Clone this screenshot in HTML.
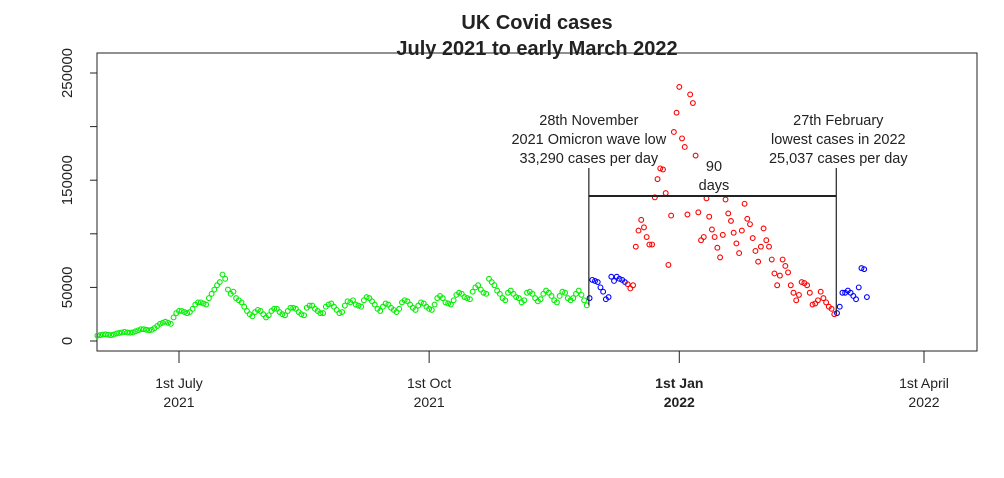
<!DOCTYPE html>
<html><head><meta charset="utf-8"><style>
body{margin:0;background:#fff;}
svg text{font-family:"Liberation Sans",Arial,sans-serif;fill:#222;}
</style></head><body>
<svg id="chart" width="1004" height="473" viewBox="0 0 1004 473" xmlns="http://www.w3.org/2000/svg">
<text x="537" y="29" text-anchor="middle" font-size="20" font-weight="bold">UK Covid cases</text>
<text x="537" y="55" text-anchor="middle" font-size="20" font-weight="bold">July 2021 to early March 2022</text>
<rect x="97" y="53" width="880" height="298" fill="none" stroke="#222" stroke-width="1"/>
<g id="yaxis"></g>
<g id="xaxis"></g>
<g id="points"></g>
<g id="annot"></g>
</svg>
<script>
// Data (thousands of cases per day)
const greenStart = "2021-06-01";
const greenValues = [5,5.5,6,6.2,5.8,5.5,6,7,7.5,8,8.5,8,7.8,8,9,10,11,11,10.5,10,10.5,12,14,16,17,18,17,16,22,26,
28,28,27,26,27,30,34,36,36,35,34,40,44,48,52,55,62,58,48,44,46,40,38,36,32,28,25,23,27,29,28,
25,22,24,28,30,30,27,25,24,28,31,31,30,27,25,24,31,33,33,30,28,26,26,32,34,35,32,29,26,27,33,
37,36,38,34,33,32,38,41,40,37,34,30,28,32,35,34,31,29,27,30,36,38,37,34,31,29,33,36,35,32,
30,29,34,40,42,40,36,35,34,38,43,45,44,41,40,39,46,50,52,48,45,44,58,55,52,47,44,40,38,45,47,
44,41,40,36,38,45,46,44,40,37,39,44,47,45,42,38,36,42,46,45,40,38,40,44,47,43,38,33.29];
const blue1Start = "2021-11-29";
const blue1Values = [40,57,56,55,50,46,39,41,60,56,60,58,57,55];
const redStart = "2021-12-13";
const redValues = [53,49,52,88,103,113,106,97,90,90,134,151,161,160,138,71,117,195,213,237,189,181,118,230,222,173,120,94,97,133,116,104,97,87,78,99,
132,119,112,101,91,82,103,128,114,109,96,84,74,88,105,94,88,76,63,52,61,76,70,64,52,45,38,43,55,54,52,45,34,35,38,46,40,36,32,30,25.037];
const blue2Start = "2022-02-28";
const blue2Values = [26,32,45,45,47,45,42,39,50,68,67,41];
const yTicks = [0,50000,100000,150000,200000,250000];
const yTickLabels = ["0","50000","","150000","","250000"];
const xTickDates = ["2021-07-01","2021-10-01","2022-01-01","2022-04-01"];
const xTickLine1 = ["1st July","1st Oct","1st Jan","1st April"];
const xTickLine2 = ["2021","2021","2022","2022"];
const xTickBold = [false,false,true,false];

const NS="http://www.w3.org/2000/svg";
const DAY=86400000;
const t0=Date.parse("2021-07-01");
function X(d){return 179+(Date.parse(d)-t0)/DAY*2.719;}
function Y(v){return 341-v/250000*268;}
function mk(tag,attrs,parent){const e=document.createElementNS(NS,tag);for(const k in attrs)e.setAttribute(k,attrs[k]);parent.appendChild(e);return e;}
const ya=document.getElementById('yaxis');
yTicks.forEach((v,i)=>{
  const l=mk('line',{x1:90,x2:97,y1:Y(v),y2:Y(v),stroke:'#222'},ya);
  
  
  if(yTickLabels[i]){
    const t=mk('text',{x:0,y:0,'font-size':15,'text-anchor':'middle',transform:`translate(72,${Y(v)}) rotate(-90)`},ya);
    t.textContent=yTickLabels[i];
    
    
  }
});
const xa=document.getElementById('xaxis');
xTickDates.forEach((d,i)=>{
  const x=X(d);
  const l=mk('line',{x1:x,x2:x,y1:351,y2:363,stroke:'#222'},xa);
  
  
  const a=mk('text',{x:x,y:388,'font-size':14,'text-anchor':'middle','font-weight':xTickBold[i]?'bold':'normal'},xa);
  a.textContent=xTickLine1[i];
  
  
  const b=mk('text',{x:x,y:407,'font-size':14,'text-anchor':'middle','font-weight':xTickBold[i]?'bold':'normal'},xa);
  b.textContent=xTickLine2[i];
  
  
});
const pg=document.getElementById('points');
function series(start,vals,color,name){
  const s=Date.parse(start);
  vals.forEach((v,i)=>{
    const d=new Date(s+i*DAY).toISOString().slice(0,10);
    const c=mk('circle',{cx:X(d),cy:Y(v*1000),r:2.4,fill:'none',stroke:color,'stroke-width':1.1},pg);
    
    
  });
}
series(greenStart,greenValues,'#00ee00','green-point');
series(blue1Start,blue1Values,'#0000ff','blue-point');
series(redStart,redValues,'#ff0000','red-point');
series(blue2Start,blue2Values,'#0000ff','blue-point');
const an=document.getElementById('annot');
const xa1=X("2021-11-28")+2, xa2=X("2022-02-27")+2;
let e;
e=mk('line',{x1:xa1,x2:xa1,y1:168,y2:Y(33290),stroke:'#222','stroke-width':1.2},an);


e=mk('line',{x1:xa2,x2:xa2,y1:168,y2:Y(25037),stroke:'#222','stroke-width':1.2},an);


e=mk('line',{x1:xa1,x2:xa2,y1:196,y2:196,stroke:'#222','stroke-width':2},an);


const txt=[[xa1,125,"28th November"],[xa1,144,"2021 Omicron wave low"],[xa1,163,"33,290 cases per day"],
[xa2+2,125,"27th February"],[xa2+2,144,"lowest cases in 2022"],[xa2+2,163,"25,037 cases per day"],
[714,171,"90"],[714,190,"days"]];
txt.forEach(a=>{const t=mk('text',{x:a[0],y:a[1],'font-size':14.5,'text-anchor':'middle'},an);t.textContent=a[2];

});
</script>
</body></html>
